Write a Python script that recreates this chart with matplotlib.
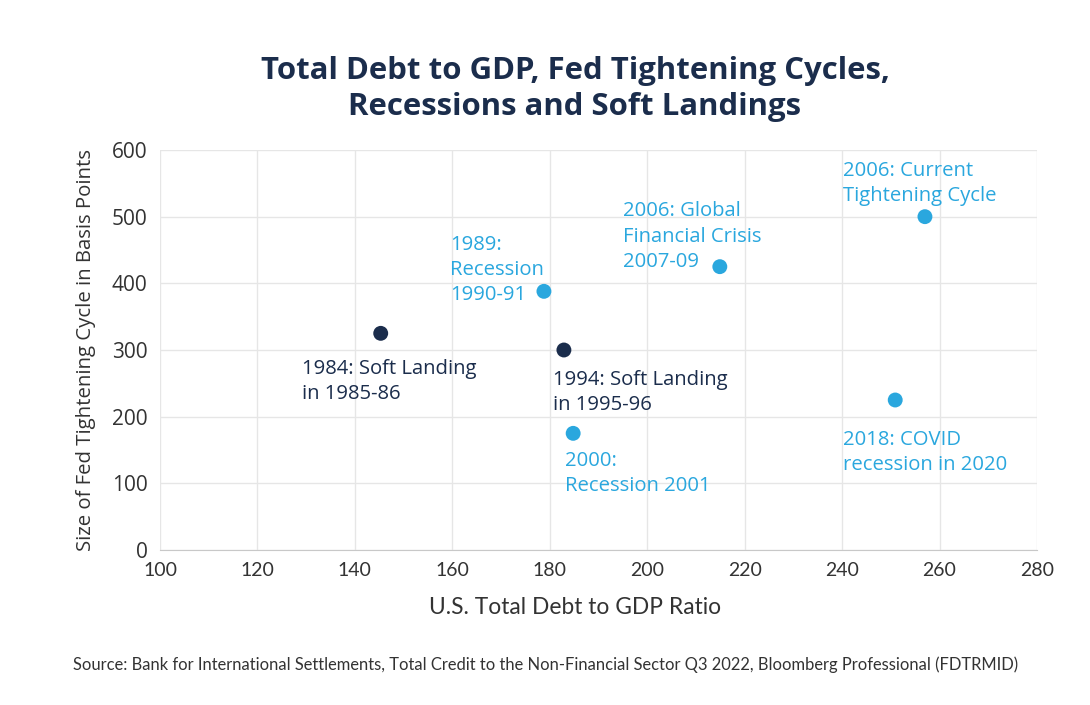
import matplotlib.pyplot as plt

plt.rcParams['font.family'] = ['Open Sans', 'DejaVu Sans']

NAVY = '#1b2d4c'
BLUE = '#2aa7de'
GRID = '#e6e6e6'
NARROW = ['Lato', 'DejaVu Sans']

# data
debt_ratio = [145.3, 182.9, 178.8, 184.8, 214.9, 257.0, 250.9]
tightening_bp = [325, 300, 388, 175, 425, 500, 225]
outcome = ['soft', 'soft', 'recession', 'recession', 'recession', 'recession', 'recession']
labels = [
    '1984: Soft Landing\nin 1985-86',
    '1994: Soft Landing\nin 1995-96',
    '1989:\nRecession\n1990-91',
    '2000:\nRecession 2001',
    '2006: Global\nFinancial Crisis\n2007-09',
    '2006: Current\nTightening Cycle',
    '2018: COVID\nrecession in 2020',
]
# label offsets in pixels (left edge, last baseline) from each point
label_offsets = [(-79, -66), (-11, -60), (-94, -9), (-8, -58), (-97, 0), (-82, 16), (-52, -70)]

x_ticks = list(range(100, 281, 20))
y_ticks = list(range(0, 601, 100))

fig = plt.figure(figsize=(10.9, 7.05), dpi=100)
ax = fig.add_axes([160 / 1090, 1 - 550 / 705, 877 / 1090, 400 / 705])

colors = [NAVY if o == 'soft' else BLUE for o in outcome]
ax.scatter(debt_ratio, tightening_bp, s=115, c=colors, zorder=3, linewidths=0)

for x, y, lab, c, (dx, dy) in zip(debt_ratio, tightening_bp, labels, colors, label_offsets):
    ax.annotate(lab, (x, y), xytext=(dx, dy), textcoords='offset pixels',
                ha='left', va='baseline', fontsize=14.6, color=c, linespacing=1.34)

ax.set_xlim(100, 280)
ax.set_ylim(0, 600)
ax.set_xticks(x_ticks)
ax.set_yticks(y_ticks)
ax.grid(True, color=GRID, linewidth=1)
ax.set_axisbelow(True)
for side in ['top', 'right', 'left']:
    ax.spines[side].set_visible(False)
ax.spines['bottom'].set_color('#c8c8c8')
ax.tick_params(length=0, colors='#333333')
ax.tick_params(axis='y', labelsize=15, pad=9)
ax.tick_params(axis='x', labelsize=14, pad=9)
for t in ax.get_xticklabels():
    t.set_family(NARROW)

ax.set_ylabel('Size of Fed Tightening Cycle in Basis Points', fontsize=14.7, color='#333333', labelpad=11)
fig.text(575 / 1090, 1 - 608 / 705, 'U.S. Total Debt to GDP Ratio', ha='center', va='center',
         fontsize=16.4, color='#333333', family=NARROW)

fig.text(575 / 1090, 1 - 89 / 705, 'Total Debt to GDP, Fed Tightening Cycles,\nRecessions and Soft Landings',
         ha='center', va='center', fontsize=22.4, fontweight='bold', color=NAVY, linespacing=1.22)

fig.text(73 / 1090, 1 - 665 / 705,
         'Source: Bank for International Settlements, Total Credit to the Non-Financial Sector Q3 2022, '
         'Bloomberg Professional (FDTRMID)',
         ha='left', va='center', fontsize=11.9, color='#333333', family=NARROW)

fig.savefig('out.png', dpi=100)
